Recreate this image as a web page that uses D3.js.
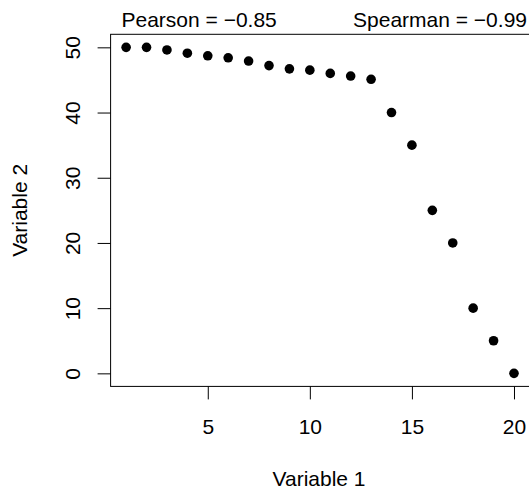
<!DOCTYPE html>
<html>
<head>
<meta charset="utf-8">
<script src="https://cdn.jsdelivr.net/npm/d3@7"></script>
<style>
  body { margin: 0; background: #fff; }
  svg text { font-family: "Liberation Sans", Arial, sans-serif; fill: #000; }
</style>
</head>
<body>
<div id="chart"></div>
<script>
var var1 = [1, 2, 3, 4, 5, 6, 7, 8, 9, 10, 11, 12, 13, 14, 15, 16, 17, 18, 19, 20];
var var2 = [50, 50, 49.6, 49.1, 48.7, 48.4, 47.9, 47.2, 46.7, 46.5, 46.0, 45.6, 45.1, 40, 35, 25, 20, 10, 5, 0];
var xTicks = [5, 10, 15, 20];
var yTicks = [0, 10, 20, 30, 40, 50];
var pearsonLabel = "Pearson = \u22120.85";
var spearmanLabel = "Spearman = \u22120.99";

var width = 529, height = 489;
var margin = { top: 34.3, right: -0.5, bottom: 102.6, left: 110.6 };
var plotW = width - margin.left - margin.right,
    plotH = height - margin.top - margin.bottom;
var fontSize = "21px";

// R-style 4% axis padding
function pad(ext) {
    var d = (ext[1] - ext[0]) * 0.04;
    return [ext[0] - d, ext[1] + d];
}

var x = d3.scaleLinear().domain(pad(d3.extent(var1))).range([0, plotW]);
var y = d3.scaleLinear().domain(pad(d3.extent(var2))).range([plotH, 0]);

var svg = d3.select("#chart").append("svg")
    .attr("width", width)
    .attr("height", height);

var g = svg.append("g")
    .attr("transform", "translate(" + margin.left + "," + margin.top + ")");

// box
g.append("rect")
    .attr("x", 0).attr("y", 0)
    .attr("width", plotW).attr("height", plotH)
    .attr("fill", "none").attr("stroke", "#000").attr("stroke-width", 1);

// x axis
var xAxis = g.append("g")
    .attr("transform", "translate(0," + plotH + ")")
    .call(d3.axisBottom(x).tickValues(xTicks).tickSize(13));
xAxis.select(".domain").remove();
xAxis.selectAll("text")
    .style("font-size", fontSize)
    .attr("fill", "#000")
    .attr("y", 434 - (margin.top + plotH))
    .attr("dy", 0);

// y axis, labels turned like R's default las=0
var yAxis = g.append("g")
    .call(d3.axisLeft(y).tickValues(yTicks).tickSize(13));
yAxis.select(".domain").remove();
yAxis.selectAll("text")
    .style("font-size", fontSize)
    .attr("fill", "#000")
    .attr("text-anchor", "middle")
    .attr("x", 0)
    .attr("y", 0)
    .attr("dy", 0)
    .attr("transform", "translate(" + (79.5 - margin.left) + ",0) rotate(-90)");

// points
g.selectAll(".pt")
    .data(var1.map(function (v, i) { return { a: v, b: var2[i] }; }))
    .enter().append("circle")
    .attr("class", "pt")
    .attr("cx", function (d) { return x(d.a); })
    .attr("cy", function (d) { return y(d.b); })
    .attr("r", 4.8)
    .attr("fill", "#000");

// labels
svg.append("text")
    .attr("x", margin.left + plotW / 2 - 1)
    .attr("y", 486)
    .attr("text-anchor", "middle")
    .style("font-size", fontSize)
    .text("Variable 1");

svg.append("text")
    .attr("transform", "translate(27," + (margin.top + plotH / 2) + ") rotate(-90)")
    .attr("text-anchor", "middle")
    .style("font-size", fontSize)
    .text("Variable 2");

svg.append("text")
    .attr("x", 121.5)
    .attr("y", 27)
    .style("font-size", fontSize)
    .text(pearsonLabel);

svg.append("text")
    .attr("x", 527)
    .attr("y", 27)
    .attr("text-anchor", "end")
    .style("font-size", fontSize)
    .text(spearmanLabel);
</script>
</body>
</html>
